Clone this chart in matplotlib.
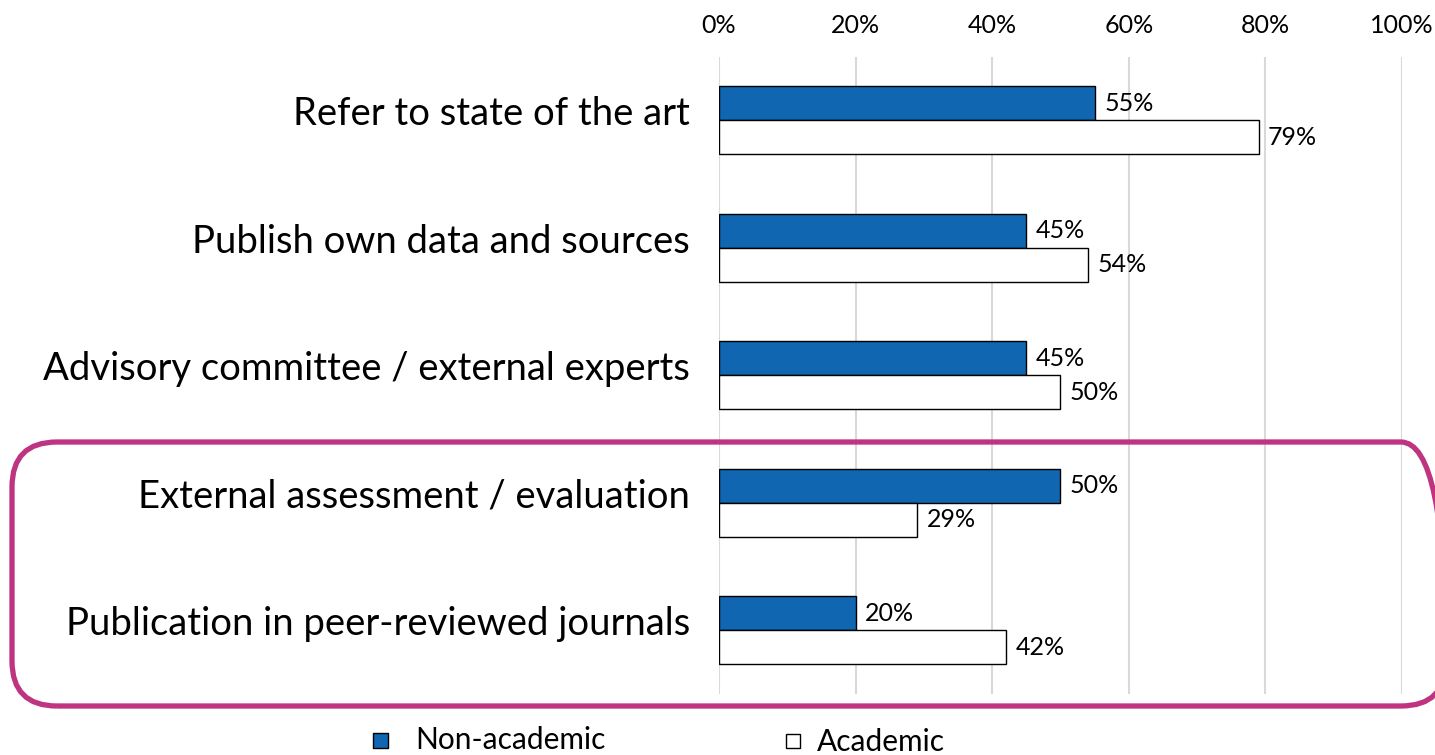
import matplotlib.pyplot as plt
import matplotlib.transforms as mtransforms
import numpy as np
from matplotlib.patches import FancyBboxPatch, Rectangle

plt.rcParams['font.family'] = ['Lato', 'DejaVu Sans']

categories = [
    "Refer to state of the art",
    "Publish own data and sources",
    "Advisory committee / external experts",
    "External assessment / evaluation",
    "Publication in peer-reviewed journals",
]
non_academic = [55, 45, 45, 50, 20]
academic = [79, 54, 50, 29, 42]
ticks = [0, 20, 40, 60, 80, 100]

blue = '#1066B0'

fig = plt.figure(figsize=(14.35, 7.55), dpi=100)
ax = fig.add_axes([0.501, 0.081, 0.476, 0.844])

y = np.arange(len(categories))
h = 0.267
ax.barh(y - h / 2, non_academic, height=h, color=blue, edgecolor='black', linewidth=1)
ax.barh(y + h / 2, academic, height=h, color='white', edgecolor='black', linewidth=1)

for yi, v in zip(y, non_academic):
    ax.text(v + 1.4, yi - h / 2, f"{v}%", va='center', ha='left', fontsize=18)
for yi, v in zip(y, academic):
    ax.text(v + 1.4, yi + h / 2, f"{v}%", va='center', ha='left', fontsize=18)

ax.set_xlim(0, 100)
ax.set_ylim(len(categories) - 0.5, -0.5)
ax.set_yticks(y)
ax.set_yticklabels([])

# category labels, nudged a little above the group centre
lab_tr = ax.get_yaxis_transform() + mtransforms.ScaledTranslation(-0.29, 0.06, fig.dpi_scale_trans)
for yi, c in zip(y, categories):
    ax.text(0, yi, c, transform=lab_tr, ha='right', va='center', fontsize=27.5)

ax.set_xticks(ticks)
ax.set_xticklabels([f"{t}%" for t in ticks], fontsize=18)
ax.xaxis.tick_top()
ax.tick_params(axis='x', length=0, pad=14)
ax.tick_params(axis='y', length=0)
ax.grid(axis='x', color='#D9D9D9', linewidth=1.5)
ax.set_axisbelow(True)
for s in ax.spines.values():
    s.set_visible(False)

# highlight box around the last two categories
box = FancyBboxPatch((0.12, 0.49), 14.34, 2.64, boxstyle="round,pad=0,rounding_size=0.45",
                     transform=fig.dpi_scale_trans, fill=False, edgecolor='#BE3480',
                     linewidth=3.8, clip_on=False)
fig.patches.append(box)

# legend
fig.patches.append(Rectangle((3.73, 0.07), 0.15, 0.15, transform=fig.dpi_scale_trans,
                             facecolor=blue, edgecolor='black', linewidth=1))
fig.text(4.15 / 14.35, 0.15 / 7.55, "Non-academic", fontsize=21.5, va='center', ha='left')
fig.patches.append(Rectangle((7.86, 0.07), 0.14, 0.14, transform=fig.dpi_scale_trans,
                             facecolor='white', edgecolor='black', linewidth=1))
fig.text(8.17 / 14.35, 0.13 / 7.55, "Academic", fontsize=21.5, va='center', ha='left')

fig.savefig('out.png', dpi=100)
